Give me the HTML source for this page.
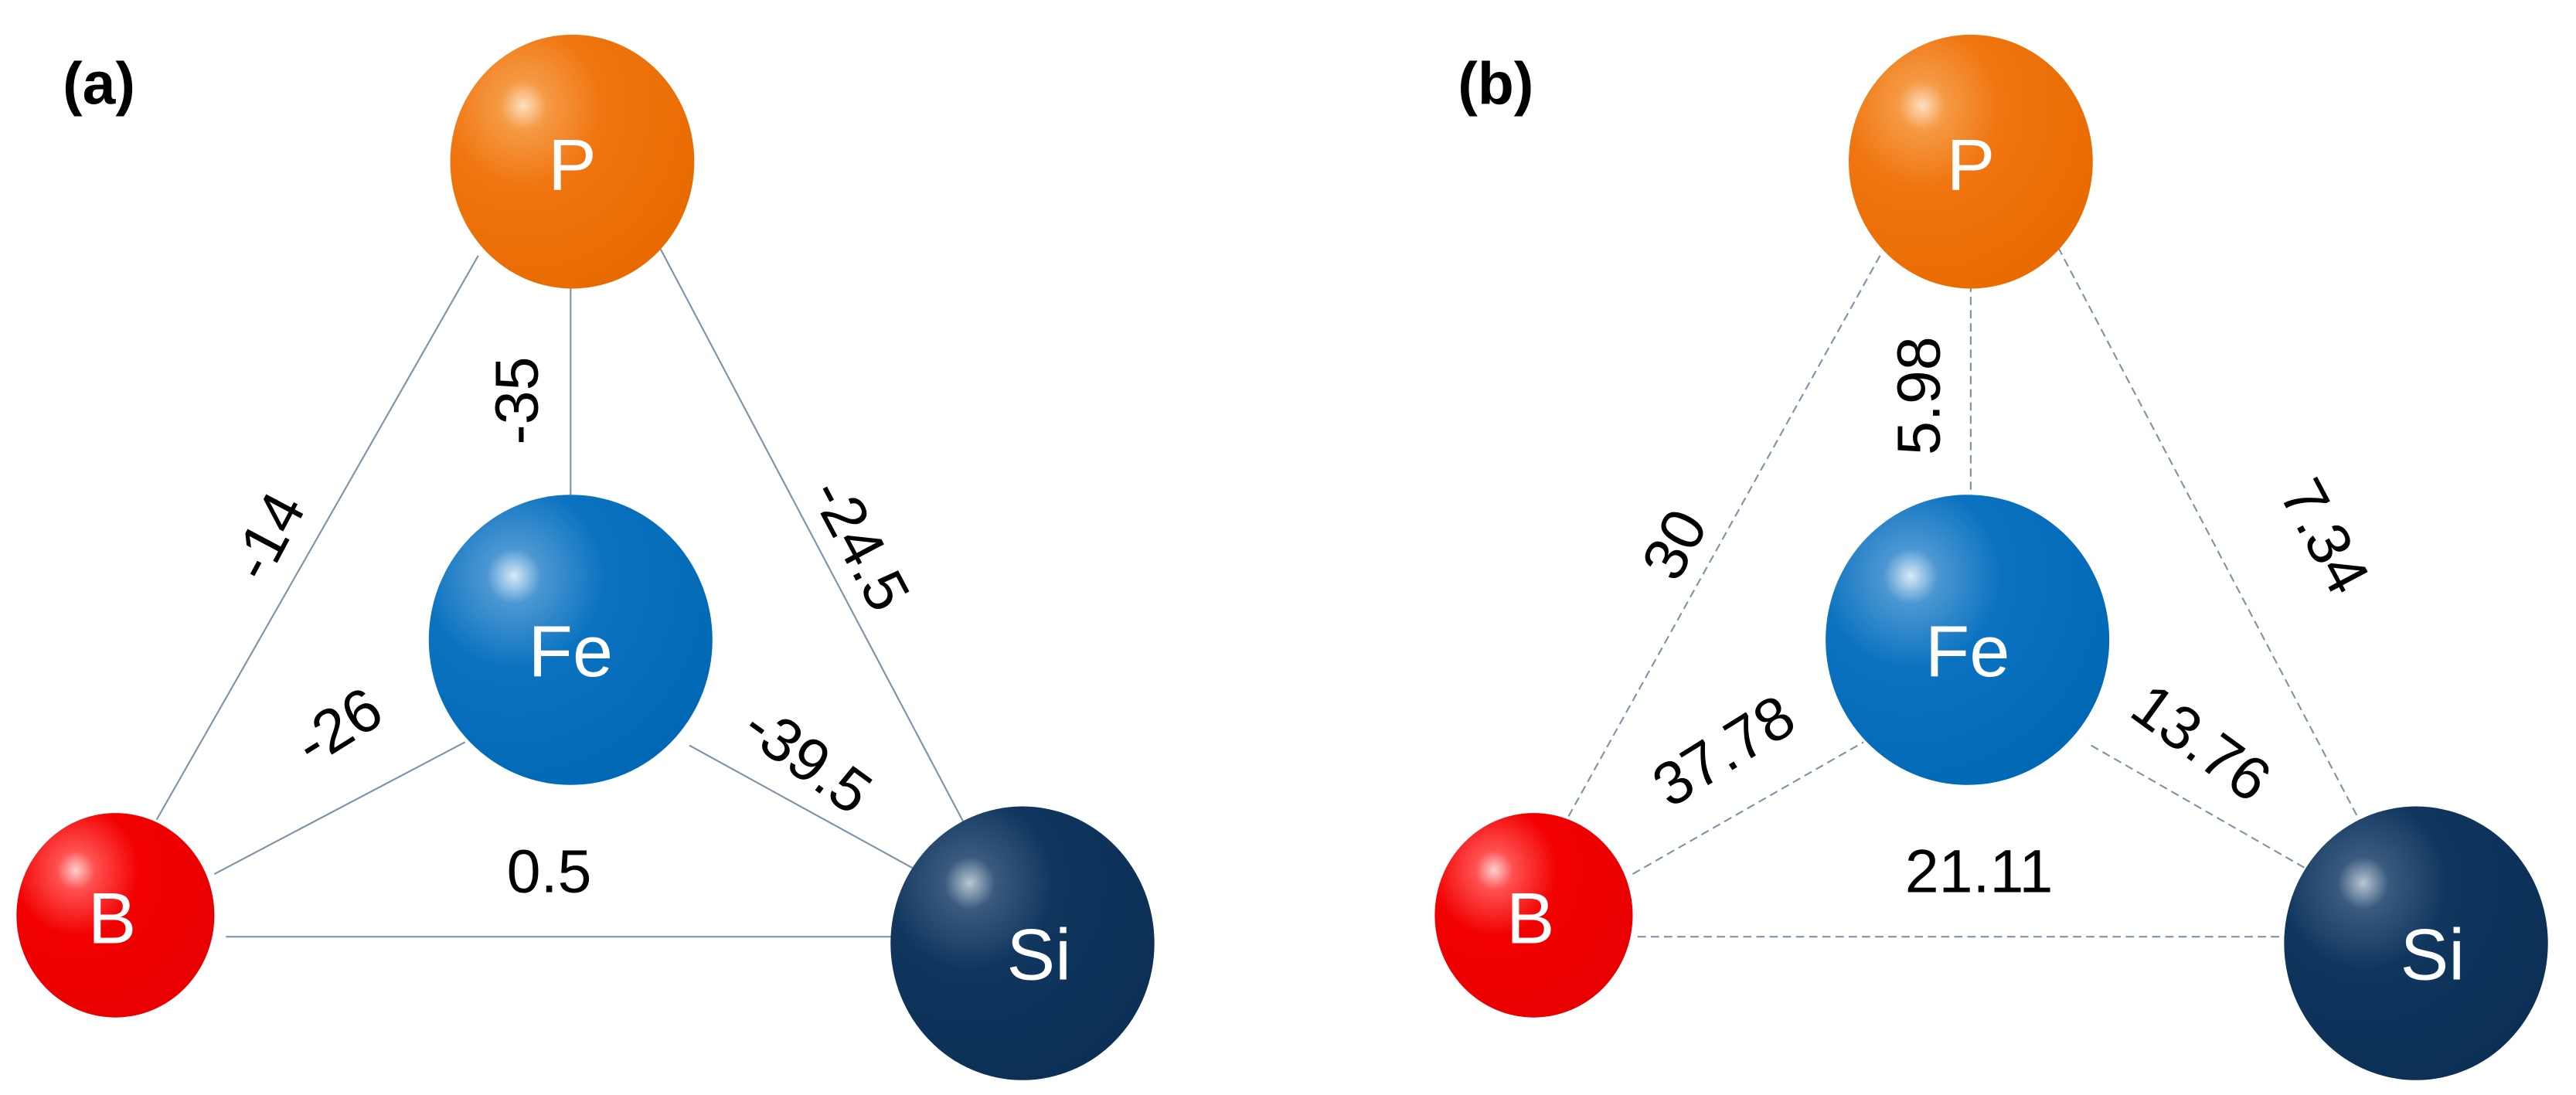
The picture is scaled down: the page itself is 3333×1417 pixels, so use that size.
<!DOCTYPE html>
<html><head><meta charset="utf-8"><style>
html,body{margin:0;padding:0;background:#fff;}
svg{display:block;}
text{font-family:"Liberation Sans",Arial,sans-serif;}
</style></head><body>
<svg width="3333" height="1417" viewBox="0 0 1562 664" preserveAspectRatio="none" xmlns="http://www.w3.org/2000/svg">
<defs>
<radialGradient id="gP" cx="0.3" cy="0.28" r="0.8"><stop offset="0" stop-color="#fde0c0"/><stop offset="0.12" stop-color="#f59a45"/><stop offset="0.4" stop-color="#f07510"/><stop offset="1" stop-color="#e86a00"/></radialGradient>
<radialGradient id="gFe" cx="0.3" cy="0.28" r="0.8"><stop offset="0" stop-color="#d8eaf6"/><stop offset="0.12" stop-color="#4c97d2"/><stop offset="0.4" stop-color="#0a72c0"/><stop offset="1" stop-color="#0068b4"/></radialGradient>
<radialGradient id="gB" cx="0.3" cy="0.28" r="0.8"><stop offset="0" stop-color="#ffd0d0"/><stop offset="0.12" stop-color="#ff5050"/><stop offset="0.4" stop-color="#f20000"/><stop offset="1" stop-color="#e80000"/></radialGradient>
<radialGradient id="gSi" cx="0.3" cy="0.28" r="0.8"><stop offset="0" stop-color="#b8c6d4"/><stop offset="0.12" stop-color="#3a5a7e"/><stop offset="0.4" stop-color="#10365e"/><stop offset="1" stop-color="#0b2f55"/></radialGradient>
</defs>

<!-- (a) -->
<g stroke="#7d93aa" stroke-width="1" fill="none">
<line x1="290" y1="155" x2="95" y2="497"/>
<line x1="346" y1="172" x2="346" y2="302"/>
<line x1="400" y1="150" x2="585" y2="500"/>
<line x1="130" y1="530" x2="282" y2="450"/>
<line x1="418" y1="452" x2="560" y2="530"/>
<line x1="137" y1="568" x2="542" y2="568"/>
</g>
<text x="38" y="63" font-size="36" font-weight="bold">(a)</text>
<ellipse cx="347" cy="98" rx="74" ry="77" fill="url(#gP)"/>
<ellipse cx="346" cy="388" rx="86" ry="88" fill="url(#gFe)"/>
<ellipse cx="70" cy="555" rx="60" ry="62" fill="url(#gB)"/>
<ellipse cx="620" cy="572" rx="80" ry="83" fill="url(#gSi)"/>
<g fill="#fff" font-size="44" text-anchor="middle">
<text x="347" y="115">P</text>
<text x="346" y="410">Fe</text>
<text x="68" y="572">B</text>
<text x="630" y="594">Si</text>
</g>
<g fill="#000" font-size="37" text-anchor="middle">
<text transform="translate(162,325) rotate(-62)" y="13">-14</text>
<text transform="translate(313,243) rotate(-90)" y="13">-35</text>
<text transform="translate(522,330) rotate(62)" y="13">-24.5</text>
<text transform="translate(205,440) rotate(-32)" y="13">-26</text>
<text transform="translate(490,460) rotate(36)" y="13">-39.5</text>
<text x="333" y="541">0.5</text>
</g>

<!-- (b) -->
<g stroke="#7d93aa" stroke-width="1" fill="none" stroke-dasharray="5,3">
<line x1="1140" y1="155" x2="950" y2="497"/>
<line x1="1195" y1="172" x2="1195" y2="302"/>
<line x1="1248" y1="150" x2="1432" y2="500"/>
<line x1="990" y1="530" x2="1130" y2="450"/>
<line x1="1268" y1="452" x2="1404" y2="530"/>
<line x1="993" y1="568" x2="1388" y2="568"/>
</g>
<text x="884" y="63" font-size="36" font-weight="bold">(b)</text>
<ellipse cx="1195" cy="98" rx="74" ry="77" fill="url(#gP)"/>
<ellipse cx="1193" cy="388" rx="86" ry="88" fill="url(#gFe)"/>
<ellipse cx="930" cy="555" rx="60" ry="62" fill="url(#gB)"/>
<ellipse cx="1465" cy="572" rx="80" ry="83" fill="url(#gSi)"/>
<g fill="#fff" font-size="44" text-anchor="middle">
<text x="1195" y="115">P</text>
<text x="1193" y="410">Fe</text>
<text x="928" y="572">B</text>
<text x="1475" y="594">Si</text>
</g>
<g fill="#000" font-size="37" text-anchor="middle">
<text transform="translate(1015,330) rotate(-62)" y="13">30</text>
<text transform="translate(1163,240) rotate(-90)" y="13">5.98</text>
<text transform="translate(1410,325) rotate(62)" y="13">7.34</text>
<text transform="translate(1045,455) rotate(-32)" y="13">37.78</text>
<text transform="translate(1335,450) rotate(36)" y="13">13.76</text>
<text x="1200" y="541">21.11</text>
</g>
</svg>
</body></html>
